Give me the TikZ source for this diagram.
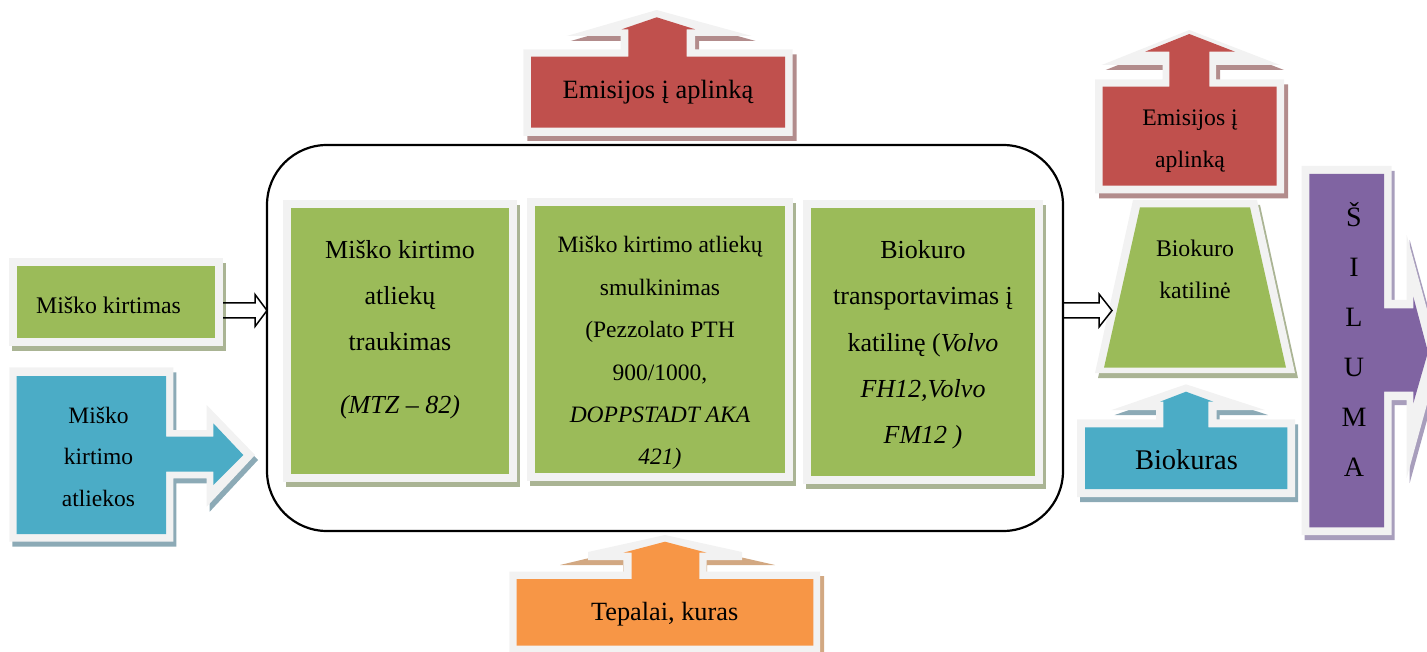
\documentclass[tikz,border=0pt]{standalone}
\usepackage{fontspec}
\setmainfont{Liberation Serif}
\usetikzlibrary{backgrounds,calc}
\definecolor{ggreen}{HTML}{9BBB59}
\definecolor{gred}{HTML}{C0504D}
\definecolor{gblue}{HTML}{4BACC6}
\definecolor{gorange}{HTML}{F79646}
\definecolor{gpurple}{HTML}{8064A2}
\definecolor{bord}{HTML}{F2F2F2}
\definecolor{shgreen}{RGB}{170,180,148}
\definecolor{shred}{RGB}{178,140,140}
\definecolor{shblue}{RGB}{140,170,182}
\definecolor{shorange}{RGB}{210,168,130}
\definecolor{shpurple}{RGB}{168,158,188}
\newcommand\FSz[2]{\fontsize{#1pt}{#2pt}\selectfont}
% outlines of the shapes (white border part)
\newcommand\ShpRedTopOut[1]{\fill[#1] (523.3,49.3) -- (620.7,49.3) -- (620.7,36) -- (566.7,36) -- (656.7,10) -- (751.7,36) -- (695,36) -- (695,49.3) -- (792.7,49.3) -- (792.7,136) -- (523.3,136) -- cycle;}
\newcommand\ShpRedRightOut[1]{\fill[#1] (1095,79.3) -- (1162.7,79.3) -- (1162.7,65) -- (1101.7,65) -- (1189.3,30) -- (1280,65) -- (1216,65) -- (1216,79.3) -- (1284,79.3) -- (1284,193.3) -- (1095,193.3) -- cycle;}
\newcommand\ShpBioOut[1]{\fill[#1] (1077,419.3) -- (1156,419.3) -- (1156,410) -- (1111.7,410) -- (1186,384.3) -- (1265,410) -- (1216.7,410) -- (1216.7,419.3) -- (1295,419.3) -- (1295,497) -- (1077,497) -- cycle;}
\newcommand\ShpBlueOut[1]{\fill[#1] (9.3,367.3) -- (173.3,367.3) -- (173.3,430) -- (206.7,430) -- (206.7,405) -- (255,455) -- (206.7,506.7) -- (206.7,478.3) -- (173.3,478.3) -- (173.3,541.7) -- (9.3,541.7) -- cycle;}
\newcommand\ShpPurpOut[1]{\fill[#1] (1301.7,166) -- (1391.7,166) -- (1391.7,300) -- (1406.7,300) -- (1406.7,235) -- (1440,357) -- (1406.7,478) -- (1406.7,400) -- (1391.7,400) -- (1391.7,535) -- (1301.7,535) -- cycle;}
\newcommand\ShpTrapOut[1]{\fill[#1] (1133,200) -- (1257,200) -- (1295,373) -- (1095,373) -- cycle;}
\begin{document}
\begin{tikzpicture}[x=1pt,y=-1pt,
  txt/.style={inner sep=0pt, align=center, text=black},
  gbox/.style={draw=bord, fill=ggreen, line width=8pt, inner sep=0pt},
  openarr/.style={draw=black, line width=1.5pt, line join=miter},
  frm/.style={draw=black, line width=2.2pt, rounded corners=60pt, inner sep=0pt, outer sep=0pt}]
\useasboundingbox (0,0) rectangle (1427,652);
\clip (0,0) rectangle (1427,652);

% big frame
\node[frm, minimum width=796pt, minimum height=386pt] (frame) at (665,338) {};

% green rectangles (anchors lie on the outer edge of the light border)
\node[gbox, minimum width=206pt, minimum height=80pt] (mk) at (116,302) {};
\node[gbox, minimum width=226pt, minimum height=274pt] (b1) at (400,341) {};
\node[gbox, minimum width=258pt, minimum height=275pt] (b2) at (660,339.5) {};
\node[gbox, minimum width=232pt, minimum height=276pt] (b3) at (923,342) {};
\begin{scope}[on background layer]
  \foreach \b in {mk,b1,b2,b3}
    \fill[shgreen] ([shift={(3,5)}]\b.north west) rectangle ([shift={(3,5)}]\b.south east);
\end{scope}

% top red callout
\ShpRedTopOut{shred, shift={(4,5)}}
\ShpRedTopOut{bord}
\fill[gred] (531,56.7) -- (628.3,56.7) -- (628.3,29.3) -- (621.7,29.3) -- (656.7,17.3) -- (695,29.3) -- (686.7,29.3) -- (686.7,56.7) -- (785,56.7) -- (785,127.7) -- (531,127.7) -- cycle;

% right red callout
\ShpRedRightOut{shred, shift={(4,5)}}
\ShpRedRightOut{bord}
\fill[gred] (1102.7,86.7) -- (1169.3,86.7) -- (1169.3,51.7) -- (1145,51.7) -- (1189.3,34) -- (1235,51.7) -- (1209.3,51.7) -- (1209.3,86.7) -- (1276.7,86.7) -- (1276.7,185.7) -- (1102.7,185.7) -- cycle;

% trapezoid
\ShpTrapOut{shgreen, shift={(3,5)}}
\ShpTrapOut{bord}
\fill[ggreen] (1140,207.3) -- (1250,207.3) -- (1286,367.7) -- (1104,367.7) -- cycle;

% Biokuras callout
\ShpBioOut{shblue, shift={(3,5)}}
\ShpBioOut{bord}
\fill[gblue] (1085,427.3) -- (1163.3,427.3) -- (1163.3,401.7) -- (1160,401.7) -- (1186,391.7) -- (1213.3,401.7) -- (1208.3,401.7) -- (1208.3,427.3) -- (1287.3,427.3) -- (1287.3,489) -- (1085,489) -- cycle;

% left blue callout
\ShpBlueOut{shblue, shift={(3,5)}}
\ShpBlueOut{bord}
\fill[gblue] (16.7,376) -- (166,376) -- (166,436.7) -- (213.3,436.7) -- (213.3,423.3) -- (243.3,455) -- (213.3,485) -- (213.3,471.7) -- (166,471.7) -- (166,534) -- (16.7,534) -- cycle;

% purple callout
\ShpPurpOut{shpurple, shift={(3,5)}}
\ShpPurpOut{bord}
\fill[gpurple] (1309.3,174) -- (1384,174) -- (1384,308.3) -- (1413.3,308.3) -- (1413.3,296.7) -- (1428,352) -- (1413.3,403.3) -- (1413.3,391.7) -- (1384,391.7) -- (1384,527.3) -- (1309.3,527.3) -- cycle;

% orange callout
\fill[shorange] (513,576) -- (623,576) -- (623,565) -- (560,565) -- (665,540) -- (775,565) -- (707,565) -- (707,576) -- (824,576) -- (824,660) -- (513,660) -- cycle;
\fill[bord] (509.3,571.7) -- (623.3,571.7) -- (623.3,560) -- (588,560) -- (588,552) -- (665,535) -- (742,552) -- (742,560) -- (706.7,560) -- (706.7,571.7) -- (820,571.7) -- (820,660) -- (509.3,660) -- cycle;
\fill[gorange] (516.7,579) -- (631.7,579) -- (631.7,552.7) -- (623.3,552.7) -- (665,541.7) -- (706.7,552.7) -- (699.3,552.7) -- (699.3,579) -- (813.3,579) -- (813.3,645.7) -- (516.7,645.7) -- cycle;

% texts
\node[txt, anchor=base, font=\FSz{23.8}{42}] (tmk) at (108.5,313) {Miško kirtimas};
\node[txt, anchor=north, font=\FSz{23.5}{41.5}] (tbl) at (98.5,393.8) {\strut Miško\\ kirtimo\\ atliekos};
\node[txt, anchor=north, font=\FSz{26}{46}] (t1) at (400,225.8) {\strut Miško kirtimo\\ atliekų\\ traukimas\\[17.5pt] \textit{(MTZ – 82)}};
\node[txt, anchor=north, font=\FSz{23.5}{42.4}] (t2) at (660,223.1) {\strut Miško kirtimo atliekų\\ smulkinimas\\ (Pezzolato PTH\\ 900/1000,\\ \textit{DOPPSTADT AKA}\\ \textit{421)}};
\node[txt, anchor=north, font=\FSz{26}{46.25}] (t3) at (923,226.1) {\strut Biokuro\\ transportavimas į\\ katilinę (\textit{Volvo}\\ \textit{FH12,Volvo}\\ \textit{FM12 )}};
\node[txt, anchor=base, font=\FSz{26.4}{46}] (tem1) at (658,98.7) {Emisijos į aplinką};
\node[txt, anchor=north, font=\FSz{23.7}{42}] (tem2) at (1190,96.4) {\strut Emisijos į\\ aplinką};
\node[txt, anchor=north, font=\FSz{23.8}{42}] (tkat) at (1195,226.5) {\strut Biokuro\\ katilinė};
\node[txt, anchor=base, font=\FSz{28.5}{48}] (tbio) at (1186.5,469.4) {Biokuras};
\node[txt, anchor=base, font=\FSz{26.3}{46}] (ttep) at (664.7,620.4) {Tepalai, kuras};
\node[txt, anchor=north, font=\FSz{28}{50}] (tsil) at (1354,191) {\strut Š\\ I\\ L\\ U\\ M\\ A};

% open block arrows
\coordinate (la) at ($(mk.east)+(0,8.5)$);
\coordinate (lb) at (frame.west |- la);
\draw[openarr] ($(la)+(0,-7.5)$) -- ($(lb)+(-12,-7.5)$) -- ($(lb)+(-12,-16)$) -- (lb) -- ($(lb)+(-12,16)$) -- ($(lb)+(-12,7.5)$) -- ($(la)+(0,7.5)$);
\coordinate (ra) at (frame.east |- la);
\coordinate (katin) at (1112,310.5);
\draw[openarr] ($(ra)+(0,-7.5)$) -- ($(katin)+(-13,-7.5)$) -- ($(katin)+(-13,-16.5)$) -- (katin) -- ($(katin)+(-13,16.5)$) -- ($(katin)+(-13,7.5)$) -- ($(ra)+(0,7.5)$);
\end{tikzpicture}
\end{document}
